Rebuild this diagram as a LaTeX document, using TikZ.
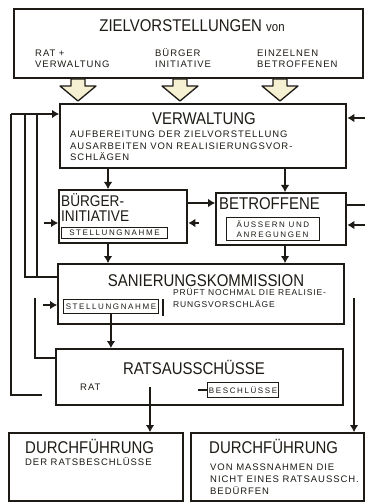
\documentclass[tikz,border=0pt]{standalone}
\usepackage{fontspec}
\setmainfont{Liberation Sans}
\newfontfamily\ttlfont{Liberation Sans}[FakeStretch=0.88]
\newfontfamily\lsfont{Liberation Sans}[LetterSpace=10]
\newfontfamily\wdfont{Liberation Sans}[LetterSpace=20]
\usetikzlibrary{arrows.meta,calc}
\definecolor{ink}{HTML}{1E1B16}
\definecolor{pale}{HTML}{F5F0D2}
\begin{document}
\begin{tikzpicture}[x=1pt,y=-1pt,
  box/.style={draw=ink,line width=2.3pt,anchor=north west,inner sep=0pt},
  ibox/.style={draw=ink,line width=0.9pt,inner sep=1.5pt,text=ink,font=\wdfont\fontsize{8}{9.5}\selectfont},
  ttl/.style={font=\ttlfont\fontsize{17}{17}\selectfont,text=ink,inner sep=0pt},
  sub/.style={font=\lsfont\fontsize{9.5}{11}\selectfont,text=ink,inner sep=0pt},
  body/.style={font=\lsfont\fontsize{9.5}{11}\selectfont,text=ink,inner sep=0pt},
  bodys/.style={font=\lsfont\fontsize{8.5}{10}\selectfont,text=ink,inner sep=0pt},
  conn/.style={draw=ink,line width=1.1pt},
  arr/.style={conn,-{Latex[length=7pt,width=8.5pt]}},
  hollow/.style={draw=ink,line width=1.3pt,fill=pale,line join=round}]
\useasboundingbox[fill=white] (0,0) rectangle (365,502);

% ---- top box
\node[box,minimum width=349pt,minimum height=69pt] (ziel) at (13,8) {};
\node[ttl,anchor=base] (zielT) at (192,32) {ZIELVORSTELLUNGEN {\fontsize{13}{13}\selectfont von}};
\node[sub,anchor=base west] (z1a) at (35,57) {RAT +};
\node[sub,anchor=base west] (z1b) at (35,68) {VERWALTUNG};
\node[sub,anchor=base west] (z2a) at (155,57) {BÜRGER};
\node[sub,anchor=base west] (z2b) at (155,68) {INITIATIVE};
\node[sub,anchor=base west] (z3a) at (257,57) {EINZELNEN};
\node[sub,anchor=base west] (z3b) at (257,68) {BETROFFENEN};

% ---- hollow arrows
\foreach \cx in {78,180,280}
  \draw[hollow] (\cx-7,79) -- (\cx+7,79) -- (\cx+7,86) -- (\cx+18,86) -- (\cx,101)
     -- (\cx-18,86) -- (\cx-7,86) -- cycle;

% ---- Verwaltung
\node[box,minimum width=286pt,minimum height=64pt] (verw) at (59,103) {};
\node[ttl,anchor=base] (verwT) at (204,125) {VERWALTUNG};
\node[body,anchor=base west] (verw1) at (70,138) {AUFBEREITUNG DER ZIELVORSTELLUNG};
\node[body,anchor=base west] (verw2) at (70,150) {AUSARBEITEN VON REALISIERUNGSVOR-};
\node[body,anchor=base west] (verw3) at (70,161) {SCHLÄGEN};

% ---- Buergerinitiative
\node[box,minimum width=128pt,minimum height=53pt] (buerg) at (58,189) {};
\node[ttl,anchor=base west,font=\ttlfont\fontsize{15.5}{15.5}\selectfont] (buergT1) at (61,207) {BÜRGER-};
\node[ttl,anchor=base west,font=\ttlfont\fontsize{15.5}{15.5}\selectfont] (buergT2) at (61,222) {INITIATIVE};
\node[ibox,minimum width=106pt,minimum height=11pt,anchor=west] (buergS) at (61,233) {STELLUNGNAHME};

% ---- Betroffene
\node[box,minimum width=130pt,minimum height=52pt] (betr) at (215,192) {};
\node[ttl,anchor=base west] (betrT) at (219,210) {BETROFFENE};
\node[ibox,minimum width=93pt,minimum height=23pt,anchor=north west,align=left] (betrS) at (226,217) {ÄUSSERN UND\\ANREGUNGEN};

% ---- Sanierungskommission
\node[box,minimum width=286pt,minimum height=60pt] (san) at (57,263) {};
\node[ttl,anchor=base] (sanT) at (206,286) {SANIERUNGSKOMMISSION};
\node[ibox,minimum width=95pt,minimum height=14pt,anchor=north west] (sanS) at (63,299) {STELLUNGNAHME};
\coordinate (barT) at (163,299);
\coordinate (barB) at (163,316);
\draw[conn] (barT) -- (barB);
\node[bodys,anchor=base west] (san1) at (173,295) {PRÜFT NOCHMAL DIE REALISIE-};
\node[bodys,anchor=base west] (san2) at (173,307) {RUNGSVORSCHLÄGE};

% ---- Ratsausschuesse
\node[box,minimum width=287pt,minimum height=56pt] (rats) at (55,348) {};
\node[ttl,anchor=base] (ratsT) at (194,374) {RATSAUSSCHÜSSE};
\node[body,anchor=base west] (ratsR) at (80,390) {RAT};
\node[ibox,minimum width=70pt,minimum height=15pt,anchor=north west] (ratsB) at (207,382) {BESCHLÜSSE};
\draw[conn] ([xshift=-9pt]ratsB.west) -- (ratsB.west);

% ---- Durchfuehrung links
\node[box,minimum width=174pt,minimum height=68pt] (durL) at (8,432) {};
\node[ttl,anchor=base west] (durLT) at (25,453) {DURCHFÜHRUNG};
\node[body,anchor=base west] (durL1) at (25,465) {DER RATSBESCHLÜSSE};

% ---- Durchfuehrung rechts
\node[box,minimum width=173pt,minimum height=68pt] (durR) at (190,432) {};
\node[ttl,anchor=base west] (durRT) at (209,453) {DURCHFÜHRUNG};
\node[body,anchor=base west] (durR1) at (210,470) {VON MASSNAHMEN DIE};
\node[body,anchor=base west] (durR2) at (210,482) {NICHT EINES RATSAUSSCH.};
\node[body,anchor=base west] (durR3) at (210,494) {BEDÜRFEN};

% ---- vertical connectors
\coordinate (xL) at (108,0);
\coordinate (xR) at (285,0);
\draw[arr] (xL |- verw.south) -- (xL |- buerg.north);
\draw[arr] (xR |- verw.south) -- (xR |- betr.north);
\draw[arr] (xL |- buerg.south) -- (xL |- san.north);
\draw[arr] (xR |- betr.south) -- (xR |- san.north);
\draw[arr] (sanS.south) -- (sanS.south |- rats.north);
\coordinate (ratsOut) at (150,387);
\draw[arr] (ratsOut) -- (ratsOut |- durL.north);

% ---- right side
\coordinate (rV) at (365,118);
\draw[arr] (rV) -- (rV -| verw.east);
\coordinate (rB1) at (365,205);
\draw[conn] (rB1 -| betr.east) -- (rB1);
\coordinate (rB2) at (365,225);
\draw[arr] (rB2) -- (rB2 -| betr.east);
\coordinate (rD) at (354,298);
\draw[arr] (rD) -- (rD |- durR.north);

% ---- middle
\coordinate (mB) at (0,203);
\draw[arr] (mB -| buerg.east) -- (mB -| betr.west);
\coordinate (mB2) at (199,223);
\draw[arr] (mB2) -- (mB2 -| buerg.east);

% ---- left side
\coordinate (l1) at (11,114);
\coordinate (l2) at (25,114);
\coordinate (l3) at (37,114);
\draw[arr] (l1) -- (l1 -| verw.west);
\coordinate (lR) at (42,395);
\draw[conn] (l1) -- (l1 |- lR) -- (lR);
\coordinate (lS) at (25,277);
\draw[conn] (l2) -- (lS) -- (lS -| san.west);
\draw[conn] (l3) -- (l3 |- lS);
\coordinate (lB) at (44,223);
\draw[arr] (lB) -- (lB -| buerg.west);
\coordinate (lK) at (43,305);
\draw[arr] (lK) -- (lK -| san.west);
\coordinate (lQ) at (35,298);
\coordinate (lQ2) at (35,358);
\draw[conn] (lQ) -- (lQ2) -- (lQ2 -| rats.west);
\end{tikzpicture}
\end{document}
